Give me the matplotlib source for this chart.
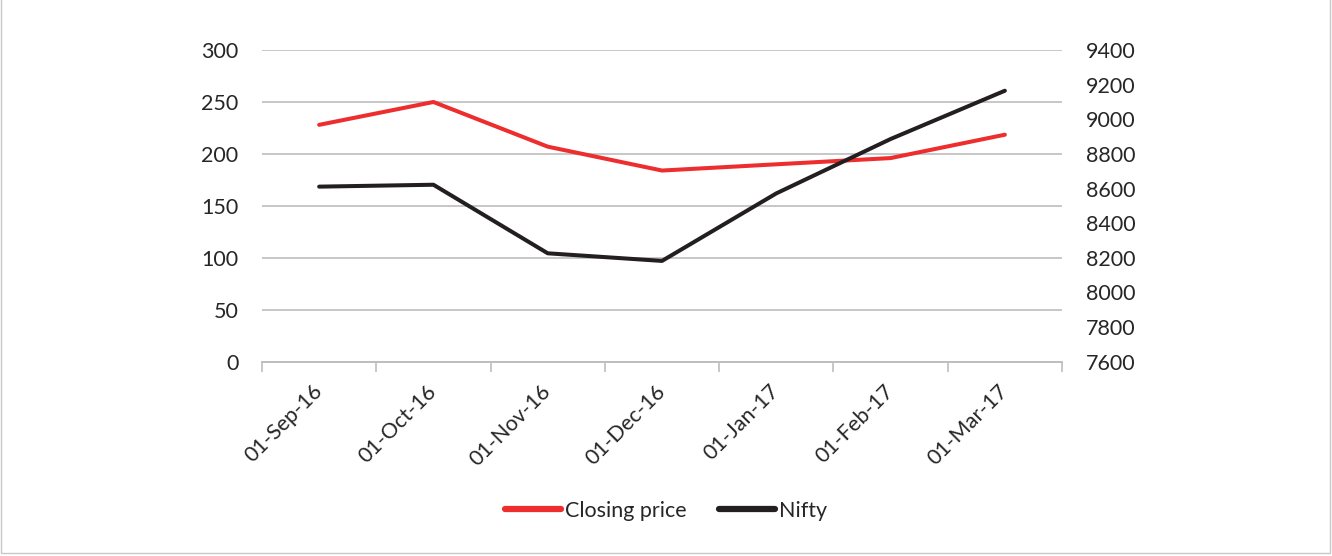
import numpy as np
import matplotlib.pyplot as plt
import matplotlib.transforms as mtransforms
from matplotlib.patches import Rectangle

plt.rcParams['font.family'] = ['Lato', 'DejaVu Sans']

dates = ['01-Sep-16', '01-Oct-16', '01-Nov-16', '01-Dec-16',
         '01-Jan-17', '01-Feb-17', '01-Mar-17']
closing_price = [228, 250, 207, 184, 190, 196, 218.5]
nifty = [8611, 8622, 8226, 8182, 8572, 8886, 9165]

red = '#ED2D2E'
black = '#231F20'
grid_c = '#BEBEBE'
text_c = '#262626'
fs = 15.5

fig = plt.figure(figsize=(13.32, 5.56), dpi=100)
ax = fig.add_axes([0.1967, 0.3495, 0.6006, 0.5605])
ax2 = ax.twinx()

x = np.arange(len(dates))
l1, = ax.plot(x, closing_price, color=red, lw=2.9, solid_capstyle='round',
              solid_joinstyle='round', label='Closing price', zorder=3)
l2, = ax2.plot(x, nifty, color=black, lw=2.9, solid_capstyle='round',
               solid_joinstyle='round', label='Nifty', zorder=3)

ax.set_xlim(-0.5, len(dates) - 0.5)
ax.set_ylim(0, 300)
ax.set_yticks(range(0, 301, 50))
ax2.set_ylim(7600, 9400)
ax2.set_yticks(range(7600, 9401, 200))

# gridlines from left axis
ax.grid(axis='y', color=grid_c, lw=1.2)
ax.set_axisbelow(True)

for a in (ax, ax2):
    for s in ('top', 'left', 'right'):
        a.spines[s].set_visible(False)
    a.spines['bottom'].set_color(grid_c)
    a.spines['bottom'].set_linewidth(1.2)

ax.tick_params(axis='y', length=0, pad=17, labelsize=fs, labelcolor=text_c)
ax2.tick_params(axis='y', length=0, pad=17, labelsize=fs, labelcolor=text_c)

# category boundaries get the tick marks, labels sit at category centres
ax.set_xticks(np.arange(-0.5, len(dates), 1.0))
ax.set_xticklabels([])
ax.tick_params(axis='x', which='major', length=7, width=1.2, color=grid_c)
ax.set_xticks(x, minor=True)
ax.set_xticklabels(dates, minor=True, rotation=45, ha='right',
                   rotation_mode='anchor', fontsize=fs, color=text_c)
ax.tick_params(axis='x', which='minor', length=0, pad=14)
shift = mtransforms.ScaledTranslation(-0.07, 0, fig.dpi_scale_trans)
for lab in ax.get_xticklabels(minor=True):
    lab.set_transform(lab.get_transform() + shift)

leg = fig.legend([l1, l2], ['Closing price', 'Nifty'], loc='center',
                 bbox_to_anchor=(0.5, 0.081), ncol=2, frameon=False,
                 fontsize=fs, handlelength=2.6, handletextpad=0.2,
                 columnspacing=1.5, labelcolor=text_c)
for h in leg.legend_handles:
    h.set_linewidth(4.5)
    h.set_solid_capstyle('round')

fig.patches.append(Rectangle((0.0008, 0.006), 0.9977, 1.2, transform=fig.transFigure,
                             fill=False, edgecolor='#C8C8C8', lw=1.0))

fig.savefig('out.png', dpi=100)
